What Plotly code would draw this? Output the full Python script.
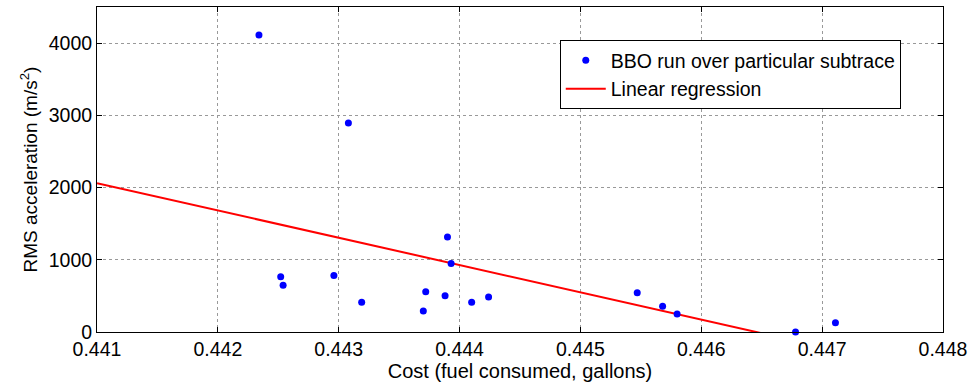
import plotly.graph_objects as go

# Data
cost = [0.44234, 0.44252, 0.44254, 0.44308, 0.44296, 0.44319, 0.44390, 0.44393,
        0.44372, 0.44370, 0.44388, 0.44410, 0.44424, 0.44547, 0.44568, 0.44580,
        0.44678, 0.44711]
rms = [4112, 765, 646, 2895, 784, 411, 1314, 950,
       557, 290, 502, 411, 484, 544, 355, 249,
       0, 129]

reg_x = [0.441, 0.4475]
reg_y = [2061, -395]

x_ticks = [0.441, 0.442, 0.443, 0.444, 0.445, 0.446, 0.447, 0.448]
y_ticks = [0, 1000, 2000, 3000, 4000]

FONT = "Liberation Sans, Arial, sans-serif"

fig = go.Figure()
fig.add_trace(go.Scatter(
    x=reg_x, y=reg_y, mode="lines", name="Linear regression",
    line=dict(color="#ff0000", width=2), showlegend=True, legendrank=2))
fig.add_trace(go.Scatter(
    x=cost, y=rms, mode="markers", name="BBO run over particular subtrace",
    marker=dict(color="#0000ff", size=7), cliponaxis=False, legendrank=1))

axis_common = dict(
    showline=True, linecolor="black", linewidth=1, mirror="ticks",
    ticks="inside", ticklen=5, tickcolor="black",
    showgrid=True, gridcolor="#999999", griddash="dot", gridwidth=1,
    zeroline=False, tickfont=dict(family=FONT, size=19.5, color="black"),
)

fig.update_xaxes(range=[0.441, 0.448], tickvals=x_ticks,
                 ticktext=[f"{v:.3f}" for v in x_ticks],
                 title=dict(text="Cost (fuel consumed, gallons)",
                            font=dict(family=FONT, size=20, color="black"), standoff=2),
                 **axis_common)
fig.update_yaxes(range=[0, 4500], tickvals=y_ticks,
                 ticktext=[str(v) for v in y_ticks],
                 title=dict(text="RMS acceleration (m/s<sup>2</sup>)",
                            font=dict(family=FONT, size=19, color="black"), standoff=6),
                 **axis_common)

fig.update_layout(
    width=977, height=391,
    margin=dict(l=97, r=34, t=7, b=59),
    plot_bgcolor="white", paper_bgcolor="white",
    font=dict(family=FONT, size=20, color="black"),
    legend=dict(x=0.547, y=0.898, xanchor="left", yanchor="top",
                bgcolor="white", bordercolor="black", borderwidth=1,
                font=dict(family=FONT, size=19.5, color="black"),
                tracegroupgap=0, itemwidth=40),
    showlegend=True,
)

fig.write_html("out.html")
